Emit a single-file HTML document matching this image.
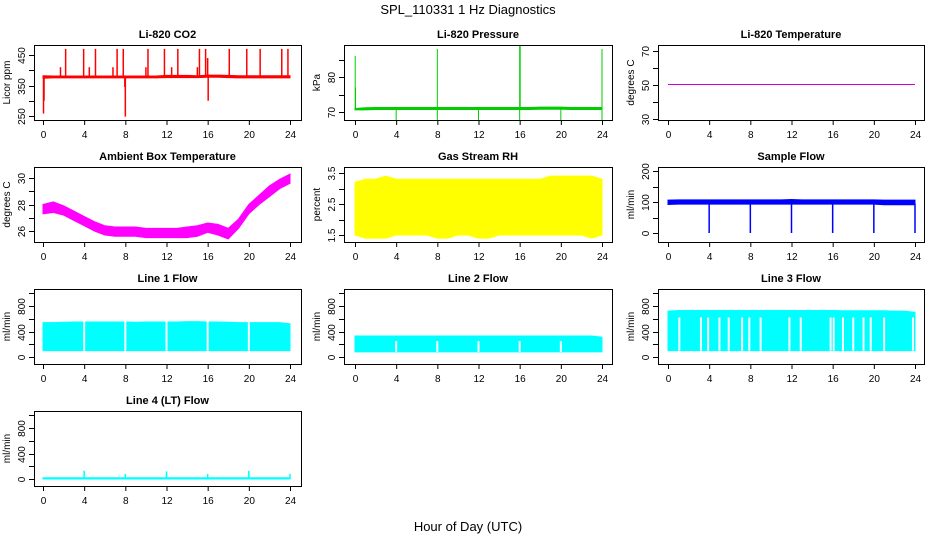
<!DOCTYPE html>
<html><head><meta charset="utf-8"><style>
body{margin:0;background:#fff}
svg{display:block;font-family:"Liberation Sans",sans-serif}
</style></head><body>
<svg id="c" width="936" height="540" viewBox="0 0 936 540">
<text x="468" y="14" text-anchor="middle" font-size="13">SPL_110331  1 Hz Diagnostics</text>
<text x="468" y="531" text-anchor="middle" font-size="13">Hour of Day (UTC)</text>
</svg>
<script>
const xTicks=[0,4,8,12,16,20,24];
const hours=[0,1,2,3,4,5,6,7,8,9,10,11,12,13,14,15,16,17,18,19,20,21,22,23,24];
// CO2
const co2Lo=[374,375,375,375,375,375,375,375,375,375,375,375,376,376,376,376,377,377,376,375,375,375,375,375,375];
const co2Hi=[382,381,381,381,381,381,381,381,381,381,381,381,383,383,383,382,384,384,383,382,382,382,382,382,382];
const co2SpikeT=[2.2,3.95,5.1,7.2,7.8,10.2,11.8,13.1,15.2,15.8,18.1,19.8,21.1,23.2,23.8,1.7,4.5,6.8,10.0,12.5,15.0,16.0,0.05,8.0,7.95,16.05,0.1];
const co2SpikeV=[470,470,470,470,470,470,470,470,470,470,470,470,470,470,470,410,410,410,410,410,410,440,258,248,345,300,300];
// Pressure
const presLo=[70.6,70.6,70.7,70.7,70.7,70.7,70.7,70.7,70.7,70.7,70.7,70.7,70.7,70.7,70.7,70.7,70.7,70.7,70.8,70.8,70.8,70.7,70.7,70.7,70.7];
const presHi=[71.0,71.2,71.3,71.3,71.3,71.3,71.3,71.3,71.3,71.3,71.3,71.3,71.3,71.3,71.3,71.3,71.3,71.3,71.4,71.4,71.4,71.3,71.3,71.3,71.3];
const presSpikeT=[0.02,0.05,8.0,16.0,16.05,24.0,4.0,8.0,12.0,16.0,20.0,24.0];
const presSpikeV=[86,77,88,89,89,88,67.5,67.5,67.5,67.5,67.5,67.5];
// Li-820 temperature
const tempT=[0,24];
const tempV=[50.3,50.3];
// Ambient box temperature
const ambLo=[27.3,27.4,27.2,26.8,26.4,26.0,25.7,25.6,25.6,25.6,25.5,25.5,25.5,25.5,25.5,25.6,25.9,25.7,25.4,26.2,27.3,28.0,28.6,29.2,29.6];
const ambHi=[28.0,28.2,27.9,27.5,27.1,26.7,26.4,26.3,26.3,26.3,26.2,26.2,26.2,26.2,26.3,26.4,26.6,26.5,26.2,26.9,28.0,28.7,29.4,29.9,30.3];
// Gas stream RH
const rhLo=[1.5,1.4,1.4,1.4,1.5,1.5,1.5,1.5,1.4,1.4,1.5,1.5,1.4,1.4,1.5,1.5,1.5,1.5,1.5,1.5,1.5,1.5,1.5,1.4,1.5];
const rhHi=[3.2,3.3,3.3,3.4,3.3,3.3,3.3,3.3,3.3,3.3,3.3,3.3,3.3,3.3,3.3,3.3,3.3,3.3,3.3,3.4,3.4,3.4,3.4,3.4,3.3];
// Sample flow
const sfLo=[92,93,93,93,93,93,93,93,93,93,93,93,93,93,93,93,93,93,93,93,93,91,91,91,91];
const sfHi=[106,107,107,107,107,107,107,107,107,107,107,107,108,107,107,107,107,107,107,107,107,106,106,106,106];
const sfDipT=[4,8,12,16,20,24];
const sfDipV=[0,0,0,0,0,0];
// Line flows
const l1Lo=[100,100,100,100,100,100,100,100,100,100,100,100,100,100,100,100,100,100,100,100,100,100,100,100,100];
const l1Hi=[540,540,545,550,550,550,550,550,550,545,550,550,550,550,555,555,550,550,545,540,540,540,540,540,520];
const l1GapT=[4,8,12,16,20];
const l2Lo=[80,80,80,80,80,80,80,80,80,80,80,80,80,80,80,80,80,80,80,80,80,80,80,80,80];
const l2Hi=[330,330,330,330,330,330,330,330,330,330,330,330,330,330,330,330,330,330,330,330,330,330,330,330,310];
const l2GapT=[4,8,12,16,20];
const l3Lo=[100,100,100,100,100,100,100,100,100,100,100,100,100,100,100,100,100,100,100,100,100,100,100,100,100];
const l3Hi=[720,730,730,730,730,730,730,730,730,730,730,730,730,730,730,730,730,725,725,725,725,725,720,720,700];
const l3GapT=[1.1,3.2,3.9,5.0,5.9,7.2,7.9,9.0,11.8,12.9,15.8,16.1,17.0,18.0,19.0,19.7,21.0,23.8];
const l4Lo=[0,0,0,0,0,0,0,0,0,0,0,0,0,0,0,0,0,0,0,0,0,0,0,0,0];
const l4Hi=[20,20,20,20,20,20,20,20,20,20,20,20,20,20,20,20,20,20,20,20,20,20,20,20,20];
const l4SpikeT=[4,8,12,16,20,24];
const l4SpikeV=[130,80,120,80,130,80];

const NS="http://www.w3.org/2000/svg";
const svg=document.getElementById('c');
function mk(tag,at,parent){const e=document.createElementNS(NS,tag);for(const k in at)e.setAttribute(k,at[k]);(parent||svg).appendChild(e);return e;}
const colL=[34,344,658],colR=[301,612,924],colX0=[43,355,668],colX24=[290,602,915];

function panel(o){
  const c=o.col,r=o.row,top=45+122*r,bot=120+122*r;
  const g=mk('g',{});
  
  
  const xs=v=>colX0[c]+(colX24[c]-colX0[c])*v/24;
  const ys=v=>o.y1+top+(v-o.v1)*(o.y2-o.y1)/(o.v2-o.v1);
  const cl=mk('clipPath',{id:'cp'+o.name},g);
  mk('rect',{x:colL[c],y:top,width:colR[c]-colL[c],height:bot-top},cl);
  const d=mk('g',{'clip-path':'url(#cp'+o.name+')'},g);
  
  
  if(o.lo){
    let p='';
    for(let i=0;i<hours.length;i++)p+=(i?'L':'M')+xs(hours[i])+' '+ys(o.hi[i]);
    for(let i=hours.length-1;i>=0;i--)p+='L'+xs(hours[i])+' '+ys(o.lo[i]);
    const band=mk('path',{d:p+'Z',fill:o.color,stroke:o.color,'stroke-width':1},d);
    
    
  }
  if(o.gaps){for(const t of o.gaps){const gl=mk('line',{x1:xs(t),x2:xs(t),y1:ys(o.gapTop),y2:ys(o.gapBot),stroke:'#fff','stroke-width':2},d);
    
    }}
  if(o.spT){for(let i=0;i<o.spT.length;i++){const s=mk('line',{x1:xs(o.spT[i]),x2:xs(o.spT[i]),y1:ys(o.spBase),y2:ys(o.spV[i]),stroke:o.color,'stroke-width':o.spW||1.5},d);
    
    }}
  if(o.lineT){let p='';o.lineT.forEach((t,i)=>p+=(i?'L':'M')+xs(t)+' '+ys(o.lineV[i]));
    const ln=mk('path',{d:p,stroke:o.color,fill:'none','stroke-width':1},d);
    
    }
  const box=mk('rect',{x:colL[c]+0.5,y:top+0.5,width:colR[c]-colL[c],height:bot-top,fill:'none',stroke:'#000'},g);
  
  
  const t=mk('text',{x:(colL[c]+colR[c])/2,y:top-7,'text-anchor':'middle','font-size':11,'font-weight':'bold'},g);
  t.textContent=o.title;
  
  
  for(const v of xTicks){const x=xs(v)+0.5;
    mk('line',{x1:x,x2:x,y1:bot,y2:bot+5,stroke:'#000'},g);
    const tl=mk('text',{x:x,y:bot+18,'text-anchor':'middle','font-size':10},g);tl.textContent=v;
    
    }
  mk('line',{x1:xs(0)+0.5,x2:xs(24)+0.5,y1:bot+0.5,y2:bot+0.5,stroke:'#000'},g);
  const yt=o.yTicks;
  mk('line',{x1:colL[c]+0.5,x2:colL[c]+0.5,y1:ys(yt[0]),y2:ys(yt[yt.length-1]),stroke:'#000'},g);
  for(const v of yt){const y=Math.round(ys(v))+0.5;
    mk('line',{x1:colL[c]-5,x2:colL[c],y1:y,y2:y,stroke:'#000'},g);
    if(o.yLabels.includes(v)){const lx=colL[c]-9;
      const yl=mk('text',{x:lx,y:y,'text-anchor':'middle','font-size':10,transform:`rotate(-90 ${lx} ${y})`},g);yl.textContent=v;
      
      }}
  const ax=colL[c]-24,ay=(top+bot)/2;
  const yl=mk('text',{x:ax,y:ay,'text-anchor':'middle','font-size':10,transform:`rotate(-90 ${ax} ${ay})`},g);
  yl.textContent=o.ylab;
  
  
}
const flowTicks=[0,200,400,600,800,1000],flowLab=[0,400,800];
panel({name:'co2-panel',col:0,row:0,title:'Li-820 CO2',ylab:'Licor ppm',color:'#f00',v1:450,y1:10,v2:250,y2:71,yTicks:[250,300,350,400,450],yLabels:[250,350,450],lo:co2Lo,hi:co2Hi,spT:co2SpikeT,spV:co2SpikeV,spBase:378});
panel({name:'pressure-panel',col:1,row:0,title:'Li-820 Pressure',ylab:'kPa',color:'#00cd00',v1:70,y1:67,v2:80,y2:32,yTicks:[70,75,80,85],yLabels:[70,80],lo:presLo,hi:presHi,spT:presSpikeT,spV:presSpikeV,spBase:71,spW:1});
panel({name:'li820-temp-panel',col:2,row:0,title:'Li-820 Temperature',ylab:'degrees C',color:'#d000d0',v1:70,y1:6,v2:30,y2:74,yTicks:[30,40,50,60,70],yLabels:[30,50,70],lineT:tempT,lineV:tempV});
panel({name:'ambient-temp-panel',col:0,row:1,title:'Ambient Box Temperature',ylab:'degrees C',color:'#f0f',v1:30,y1:11,v2:26,y2:64,yTicks:[26,27,28,29,30],yLabels:[26,28,30],lo:ambLo,hi:ambHi});
panel({name:'rh-panel',col:1,row:1,title:'Gas Stream RH',ylab:'percent',color:'#ff0',v1:3.5,y1:6,v2:1.5,y2:68,yTicks:[1.5,2,2.5,3,3.5],yLabels:[1.5,2.5,3.5],lo:rhLo,hi:rhHi});
panel({name:'sample-flow-panel',col:2,row:1,title:'Sample Flow',ylab:'ml/min',color:'#00f',v1:200,y1:4,v2:0,y2:66,yTicks:[0,50,100,150,200],yLabels:[0,100,200],lo:sfLo,hi:sfHi,spT:sfDipT,spV:sfDipV,spBase:95});
panel({name:'line1-flow-panel',col:0,row:2,title:'Line 1 Flow',ylab:'ml/min',color:'#0ff',v1:800,y1:17,v2:0,y2:68,yTicks:flowTicks,yLabels:flowLab,lo:l1Lo,hi:l1Hi,gaps:l1GapT,gapTop:560,gapBot:100});
panel({name:'line2-flow-panel',col:1,row:2,title:'Line 2 Flow',ylab:'ml/min',color:'#0ff',v1:800,y1:17,v2:0,y2:68,yTicks:flowTicks,yLabels:flowLab,lo:l2Lo,hi:l2Hi,gaps:l2GapT,gapTop:250,gapBot:80});
panel({name:'line3-flow-panel',col:2,row:2,title:'Line 3 Flow',ylab:'ml/min',color:'#0ff',v1:800,y1:17,v2:0,y2:68,yTicks:flowTicks,yLabels:flowLab,lo:l3Lo,hi:l3Hi,gaps:l3GapT,gapTop:620,gapBot:100});
panel({name:'line4-flow-panel',col:0,row:3,title:'Line 4 (LT) Flow',ylab:'ml/min',color:'#0ff',v1:800,y1:17,v2:0,y2:68,yTicks:flowTicks,yLabels:flowLab,lo:l4Lo,hi:l4Hi,spT:l4SpikeT,spV:l4SpikeV,spBase:0});
</script>
</body></html>
